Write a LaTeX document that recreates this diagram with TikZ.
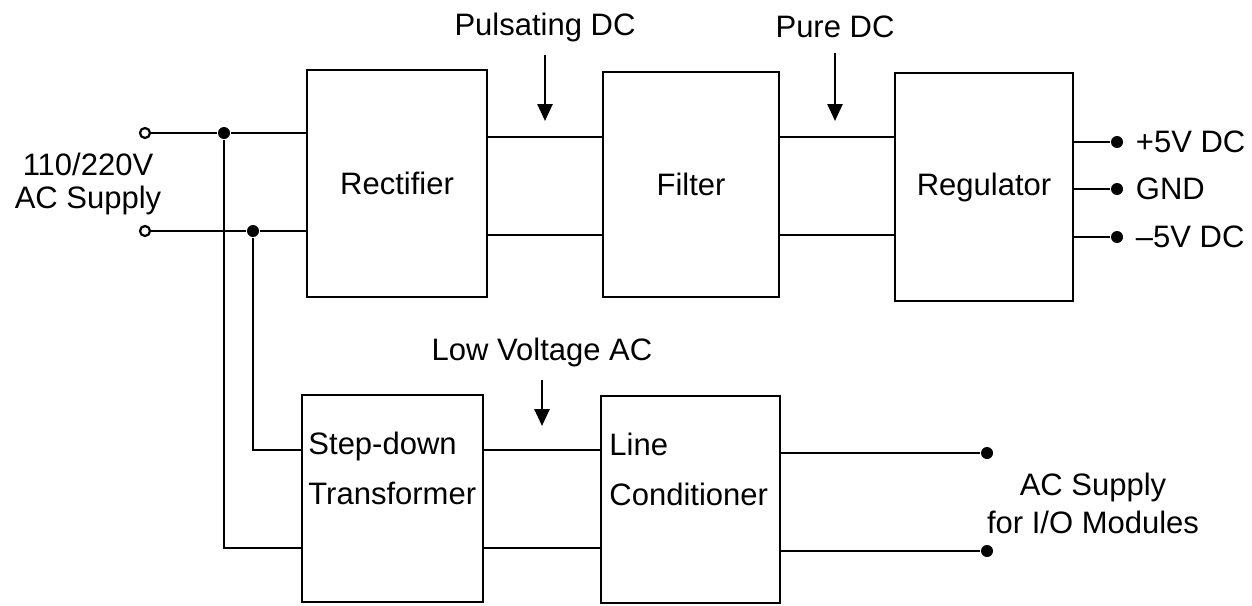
\documentclass[tikz,border=0pt]{standalone}
\usepackage{fontspec}
\setmainfont{Liberation Sans}
\usetikzlibrary{positioning,arrows.meta}

\begin{document}
\begin{tikzpicture}[
  x=0.5pt, y=-0.5pt,
  font=\fontsize{15.5}{16.5}\selectfont,
  line width=1.45pt,
  block/.style={rectangle,draw,line width=1.45pt,inner sep=0pt,align=center},
  txt/.style={inner sep=0pt,align=center},
  arr/.style={-{Triangle[length=8.5pt,width=7.5pt]},line width=1.3pt},
  openterm/.style={circle,draw,fill=white,inner sep=0pt,minimum size=5pt,line width=1.1pt},
  jdot/.style={circle,fill,inner sep=0pt,minimum size=6pt}
]
\useasboundingbox (0,0) rectangle (1252,605);

% ---- main DC path ----
\node[block,minimum width=90pt,minimum height=113.5pt] (rect) at (397,183.5) {Rectifier};
\node[block,minimum width=88pt,minimum height=112.5pt] (filt) at (691,184.5) {Filter};
\node[block,minimum width=89pt,minimum height=114pt] (reg) at (984,187) {Regulator};

% ---- AC path ----
\node[block,minimum width=90.5pt,minimum height=103.5pt] (tf) at (392.5,498.5) {};
\node[txt,align=left,anchor=west,font=\fontsize{15.5}{25}\selectfont] (tfname) at (307,468) {Step-down\\Transformer};
\node[block,minimum width=89.5pt,minimum height=103.5pt] (lc) at (690.5,499.5) {};
\node[txt,align=left,anchor=west,font=\fontsize{15.5}{25}\selectfont] (lcname) at (608,469) {Line\\Conditioner};

% ---- input ----
\node[openterm] (in1) at (145,133) {};
\node[openterm] (in2) at (145,231) {};
\node[jdot] (j1) at (224,133) {};
\node[jdot] (j2) at (253,231) {};
\node[txt] (acin) at (88,184) {110/220V\\AC Supply};
\coordinate (hiA) at (0,137);
\coordinate (hiB) at (0,235);
\coordinate (lo1) at (0,450);
\coordinate (lo2) at (0,548);
\draw (in1) -- (j1) -- (rect.west |- j1);
\draw (in2) -- (j2) -- (rect.west |- j2);
\draw (j1) |- (tf.west |- lo2);
\draw (j2) |- (tf.west |- lo1);

% ---- between blocks ----
\draw (rect.east |- hiA) -- (filt.west |- hiA);
\draw (rect.east |- hiB) -- (filt.west |- hiB);
\draw (filt.east |- hiA) -- (reg.west |- hiA);
\draw (filt.east |- hiB) -- (reg.west |- hiB);
\draw (tf.east |- lo1) -- (lc.west |- lo1);
\draw (tf.east |- lo2) -- (lc.west |- lo2);

% ---- signal labels ----
\node[txt] (pd) at (545,27) {Pulsating DC};
\coordinate (pdTip) at (545,121);
\draw[arr,shorten <=6pt] (pd) -- (pdTip);
\node[txt] (pure) at (835,27) {Pure DC};
\coordinate (pureTip) at (835,121);
\draw[arr,shorten <=7pt] (pure) -- (pureTip);
\node[txt] (lowac) at (542,352) {Low Voltage AC};
\coordinate (lowTip) at (542,426);
\draw[arr,shorten <=6pt] (lowac) -- (lowTip);

% ---- outputs ----
\node[jdot] (pos) at (1117,142) {};
\node[jdot] (gnd) at (1117,189) {};
\node[jdot] (neg) at (1117,237) {};
\draw (reg.east |- pos) -- (pos);
\draw (reg.east |- gnd) -- (gnd);
\draw (reg.east |- neg) -- (neg);
\node[txt,right=5pt of pos] (posl) {+5V DC};
\node[txt,right=5pt of gnd] (gndl) {GND};
\node[txt,right=5pt of neg] (negl) {--5V DC};

\node[jdot] (ac1) at (987,453) {};
\node[jdot] (ac2) at (987,551) {};
\draw (lc.east |- ac1) -- (ac1);
\draw (lc.east |- ac2) -- (ac2);
\node[txt,font=\fontsize{15.5}{19}\selectfont] (acout) at (1093,503) {AC Supply\\for I/O Modules};

\end{tikzpicture}
\end{document}
